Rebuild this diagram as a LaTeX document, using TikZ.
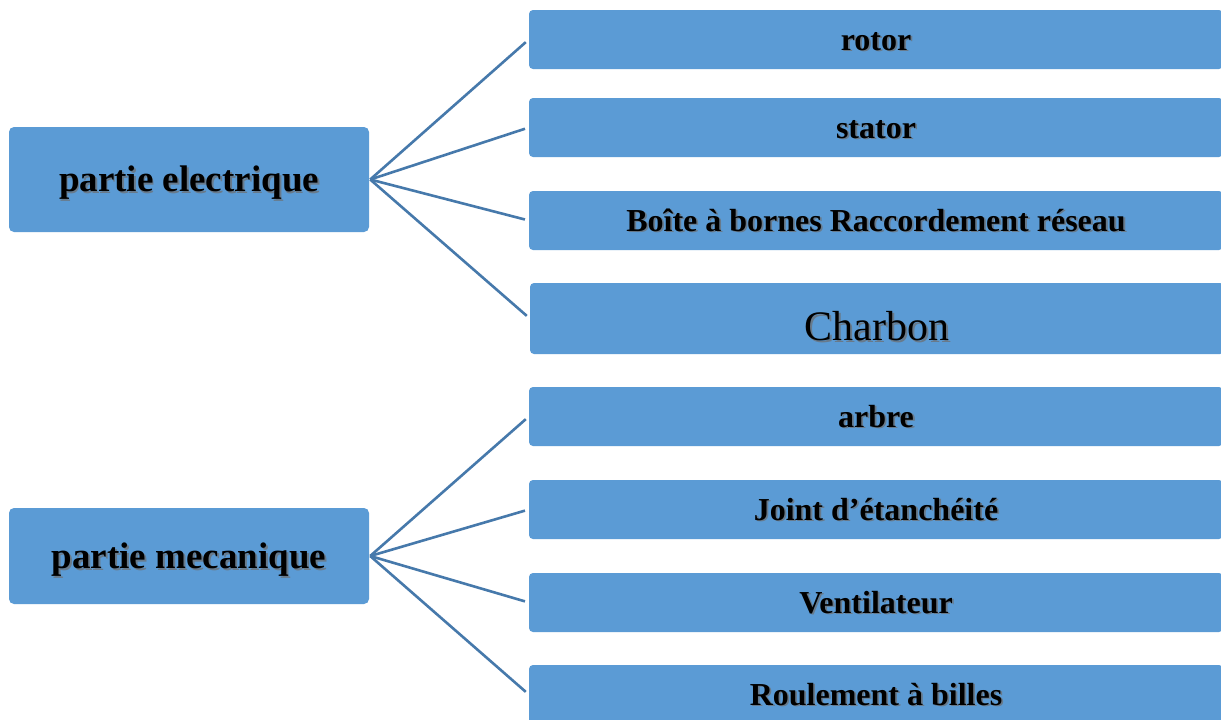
\documentclass[tikz,border=0pt]{standalone}
\usepackage{fontspec}
\setmainfont{Liberation Serif}
\definecolor{boxblue}{HTML}{5B9BD5}
\definecolor{linkblue}{HTML}{4679AB}
\definecolor{shade}{HTML}{27415A}
% text with a soft drop shadow
\newcommand\shadowtext[1]{\leavevmode\rlap{\hspace{1.8pt}\raisebox{-1.8pt}{\textcolor{shade!70}{#1}}}#1}
\begin{document}
\begin{tikzpicture}[x=1pt,y=-1pt,
  part/.style={fill=boxblue,rounded corners=5pt,inner sep=0pt,
    text height=31.8pt,text depth=7.4pt,
    minimum width=360pt,font=\fontsize{37}{40}\selectfont\bfseries},
  item/.style={fill=boxblue,rounded corners=4pt,inner sep=0pt,
    text height=27.5pt,text depth=6.4pt,
    minimum width=694pt,minimum height=59pt,font=\fontsize{32}{36}\selectfont\bfseries},
  link/.style={draw=linkblue,line width=2.6pt,shorten >=4pt}]
\clip (0,0) rectangle (1221,720);
\fill[white] (0,0) rectangle (1221,720);

\node[part,minimum height=105pt] (elec) at (189,179.5) {\shadowtext{partie electrique}};
\node[part,minimum height=96pt] (meca) at (189,556) {\shadowtext{partie mecanique}};

\node[item] (rotor) at (876,39.5) {\shadowtext{rotor}};
\node[item] (stator) at (876,127.5) {\shadowtext{stator}};
\node[item] (boite) at (876,220.5) {\shadowtext{Boîte à bornes Raccordement réseau}};
\node[item,minimum height=71pt,font=\fontsize{42}{46}\selectfont,
  text height=52pt,text depth=8.4pt] (charbon) at (877,318.5) {\shadowtext{Charbon}};

\node[item] (arbre) at (876,416.5) {\shadowtext{arbre}};
\node[item] (joint) at (876,509.5) {\shadowtext{Joint d’étanchéité}};
\node[item] (ventil) at (876,602.5) {\shadowtext{Ventilateur}};
\node[item] (roul) at (876,694.5) {\shadowtext{Roulement à billes}};

\foreach \t in {rotor,stator,boite,charbon}
  \draw[link] ([xshift=1pt]elec.east) -- (\t.west);
\foreach \t in {arbre,joint,ventil,roul}
  \draw[link] ([xshift=1pt]meca.east) -- (\t.west);
\end{tikzpicture}
\end{document}
